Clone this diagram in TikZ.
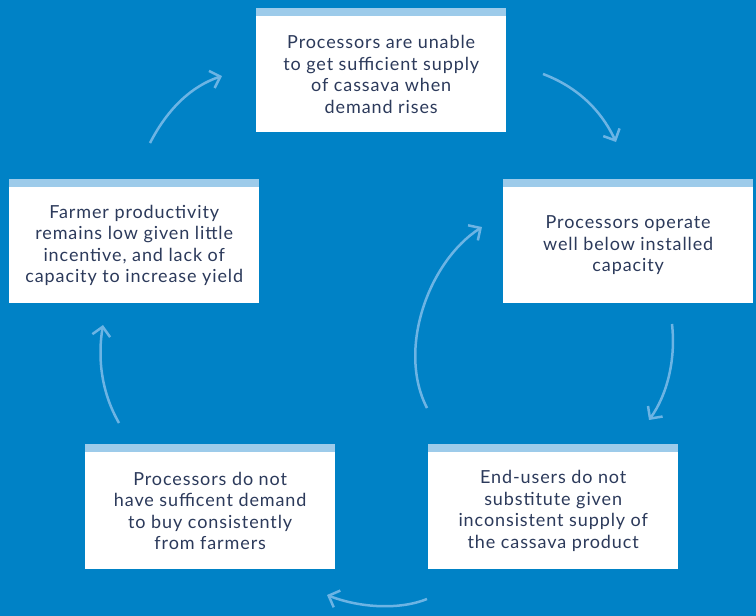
\documentclass[tikz,border=0pt]{standalone}
\usepackage{fontspec}
\setmainfont[LetterSpace=5]{Lato}
\usetikzlibrary{arrows.meta}
\definecolor{bg}{HTML}{0082C6}
\definecolor{arr}{HTML}{6CB4E4}
\definecolor{strip}{HTML}{9DCBEA}
\definecolor{txt}{HTML}{2C3A5B}
\begin{document}
\begin{tikzpicture}[x=1pt,y=-1pt,
  box/.style={fill=white, minimum width=250pt, minimum height=116pt, inner sep=0pt,
    align=center, text=txt, font=\fontsize{18}{21.5}\selectfont, anchor=north west},
  stripfill/.style={fill=strip},
  flow/.style={draw=arr, line width=2.5pt, -{Straight Barb[length=9pt,width=18pt]}}]
\fill[bg] (0,0) rectangle (756,616);
\useasboundingbox (0,0) rectangle (756,616);
\node[box] (t) at (256,16) {Processors are unable\\to get sufficient supply\\of cassava when\\demand rises};
\node[box] (r) at (503,187) {Processors operate\\well below installed\\capacity};
\node[box] (l) at (9,187) {Farmer productivity\\remains low given little\\incentive, and lack of\\capacity to increase yield};
\node[box, minimum height=117pt] (bl) at (85,452) {Processors do not\\have sufficent demand\\to buy consistently\\from farmers};
\node[box, minimum height=117pt] (br) at (428,452) {End-users do not\\substitute given\\inconsistent supply of\\the cassava product};
\foreach \n in {t,r,l,bl,br} \fill[stripfill] (\n.north west) rectangle ([yshift=8pt]\n.north east);
\coordinate (a1s) at (150,143); \coordinate (a1e) at (222,76);
\coordinate (a2s) at (543,74);  \coordinate (a2e) at (616,142);
\coordinate (a3s) at (672,324); \coordinate (a3e) at (649,420);
\coordinate (a4s) at (427,599); \coordinate (a4e) at (327,595);
\coordinate (a5s) at (119,423); \coordinate (a5e) at (103,325);
\coordinate (a6s) at (427,408); \coordinate (a6e) at (482,227);
\draw[flow] (a1s) .. controls (168,108) and (192,86) .. (a1e);
\draw[flow] (a2s) .. controls (575,86) and (600,108) .. (a2e);
\draw[flow] (a3s) .. controls (676,360) and (667,395) .. (a3e);
\draw[flow] (a4s) .. controls (400,610) and (360,608) .. (a4e);
\draw[flow] (a5s) .. controls (100,390) and (98,355) .. (a5e);
\draw[flow] (a6s) .. controls (397,350) and (428,262) .. (a6e);
\end{tikzpicture}
\end{document}
